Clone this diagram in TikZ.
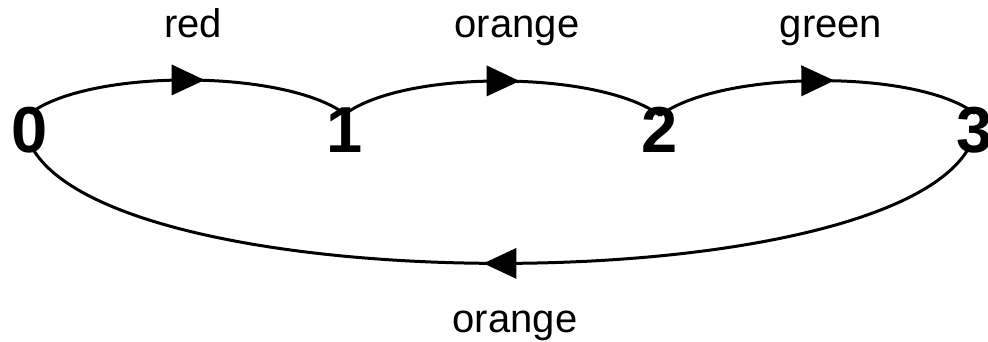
\documentclass[tikz,border=0pt]{standalone}
\usepackage{fontspec}
\setmainfont{Liberation Sans}
\usetikzlibrary{decorations.markings}
\begin{document}
\begin{tikzpicture}[x=1pt,y=1pt,
  state/.style={inner sep=0pt,anchor=base,font=\bfseries\fontsize{65}{78}\selectfont},
  lbl/.style={inner sep=0pt,anchor=base,font=\fontsize{40}{48}\selectfont},
  edge/.style={line width=3pt,postaction={decorate},
    decoration={markings,mark=at position 0.5 with
      {\fill (17,0) -- (-16,15.5) -- (-16,-15.5) -- cycle;}}}]
\useasboundingbox (0,0) rectangle (988,341);
% states
\node[state] (n0) at (30,189) {0};
\node[state] (n1) at (345,189) {1};
\node[state] (n2) at (660,189) {2};
\node[state] (n3) at (975,189) {3};
% transitions along the top
\draw[edge] ([yshift=-7pt]n0.north) .. controls +(60,45) and +(-60,45) .. ([yshift=-7pt]n1.north);
\draw[edge] ([yshift=-7pt]n1.north) .. controls +(60,45) and +(-60,45) .. ([yshift=-9pt]n2.north);
\draw[edge] ([yshift=-9pt]n2.north) .. controls +(60,45) and +(-60,45) .. ([yshift=-7pt]n3.north);
% return transition underneath
\draw[edge] ([xshift=-8pt,yshift=2pt]n3.south) .. controls +(-95,-150) and +(95,-150) .. ([xshift=4pt,yshift=2pt]n0.south);
% labels
\node[lbl] (l01) at (193,303) {red};
\node[lbl] (l12) at (517,303) {orange};
\node[lbl] (l23) at (831,303) {green};
\node[lbl] (l30) at (515,9) {orange};
\end{tikzpicture}
\end{document}
